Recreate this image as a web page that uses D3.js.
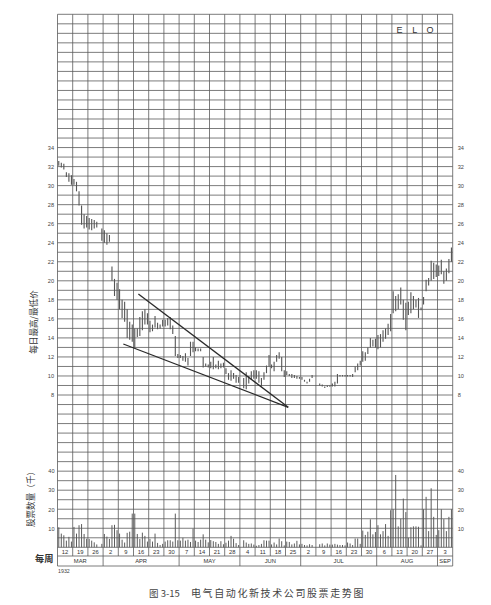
<!DOCTYPE html>
<html><head><meta charset="utf-8">
<script src="https://cdn.jsdelivr.net/npm/d3@7"></script>
<style>body{margin:0;background:#fff}svg{display:block}</style>
</head><body>
<svg id="c" width="491" height="605"></svg>
<script>
// ---- data ----
const weekLabels = ["12","19","26","2","9","16","23","30","7","14","21","28","4","11","18","25","2","9","16","23","30","6","13","20","27","3"];
const monthNames = ["MAR","APR","MAY","JUN","JUL","AUG","SEP"];
const monthWeeks = [3,5,4,4,5,4,1];
const priceTicks = [8,10,12,14,16,18,20,22,24,26,28,30,32,34];
const volumeTicks = [10,20,30,40];
const symbolLetters = ["E","L","O"];
// daily high / low (6 trading days per week, Mon-Sat), null = holiday
const dailyHigh = [
[32.6,32.4,32.3,31.4,31.3,31.1],
[30.7,30.4,29.4,27.9,27.0,26.8],
[26.6,26.5,26.4,26.2,null,25.5],
[25.3,25.0,24.8,21.5,20.2,19.8],
[19.1,18.0,17.8,17.0,15.7,15.4],
[15.0,15.0,16.2,16.8,17.0,16.6],
[15.8,15.4,16.3,15.6,15.4,15.9],
[15.9,16.1,16.2,15.3,14.2,12.3],
[12.2,12.1,12.4,11.9,13.6,13.6],
[13.0,12.9,12.9,12.0,11.3,11.2],
[11.5,12.0,11.2,11.6,11.3,11.4],
[10.8,10.3,10.6,10.3,10.1,9.9],
[null,9.8,10.4,10.0,10.5,10.6],
[10.6,10.5,9.8,10.4,11.1,12.2],
[11.2,11.5,12.2,12.5,12.0,10.6],
[10.5,10.2,10.2,10.1,10.0,9.9],
[9.9,9.6,9.4,9.7,10.1,null],
[null,9.2,9.1,8.9,9.0,9.0],
[9.2,9.4,10.2,10.1,10.1,10.1],
[10.1,10.1,10.2,11.0,11.3,11.6],
[12.6,12.5,13.0,14.0,13.8,13.9],
[14.3,14.4,14.8,15.0,15.5,16.5],
[18.9,18.4,18.6,19.3,18.0,17.7],
[17.8,18.8,18.4,18.0,18.2,17.2],
[18.3,20.1,20.3,22.1,21.9,21.7],
[21.6,22.2,21.0,21.3,22.3,23.5]
];
const dailyLow = [
[32.1,31.9,31.7,30.9,30.4,30.1],
[30.1,29.4,27.9,25.9,25.5,25.6],
[25.4,25.3,25.5,25.6,null,24.2],
[24.0,23.8,24.1,20.0,18.4,18.0],
[17.0,16.1,15.7,14.0,13.8,13.6],
[13.0,14.1,14.2,14.8,15.4,15.4],
[14.6,14.7,15.1,14.9,15.0,15.2],
[15.2,15.3,14.9,14.4,12.1,11.9],
[11.9,11.6,11.5,11.1,12.1,12.5],
[12.6,12.6,12.6,10.9,11.0,10.9],
[10.8,10.7,10.8,10.7,10.8,10.9],
[10.2,9.6,9.5,9.7,9.3,9.3],
[null,8.7,8.6,9.2,9.6,9.7],
[9.7,9.3,8.9,9.6,10.3,11.0],
[10.8,10.5,11.5,11.8,10.5,9.9],
[10.1,10.0,9.8,9.8,9.7,9.7],
[9.6,9.4,9.2,9.4,9.8,null],
[null,9.0,8.9,8.75,8.85,8.9],
[8.9,8.9,9.2,9.95,9.95,9.95],
[9.95,9.95,9.9,10.4,10.6,11.1],
[11.5,11.6,12.3,13.0,13.1,13.0],
[12.8,13.0,13.6,13.9,14.3,14.7],
[16.6,16.8,17.0,17.5,15.9,14.8],
[16.4,16.6,17.0,17.2,16.1,16.9],
[17.5,18.9,19.5,20.0,20.2,20.4],
[20.5,20.7,19.7,20.0,20.8,22.0]
];
// daily volume (thousands of shares)
const dailyVolume = [
[10.5,7.2,6.3,3.5,5.5,3.0],
[10.7,7.2,11.6,12.2,7.0,4.5],
[4.4,3.5,2.6,1.5,null,1.8],
[7.0,5.6,4.4,11.6,11.8,9.0],
[7.2,4.0,2.5,7.6,8.2,17.7],
[17.7,7.0,4.4,7.7,6.0,3.0],
[4.4,3.0,7.2,2.3,1.2,1.8],
[3.0,3.7,3.7,3.0,17.7,3.7],
[3.5,5.0,3.5,4.0,2.8,9.8],
[3.5,2.8,4.0,6.8,4.0,2.6],
[3.8,3.2,2.8,1.8,3.2,1.6],
[2.4,3.5,6.0,4.5,2.2,1.2],
[null,3.7,2.5,1.8,2.0,1.4],
[0.8,1.2,1.8,3.7,3.5,3.5],
[1.5,2.5,1.5,4.6,3.2,1.0],
[3.0,2.8,1.5,2.0,3.4,1.5],
[1.8,1.2,1.0,1.6,1.2,null],
[null,1.6,2.0,1.0,2.0,1.4],
[1.4,1.8,1.4,1.2,1.2,1.0],
[2.5,2.0,1.2,4.6,4.6,1.8],
[8.8,6.5,8.2,14.7,6.8,8.0],
[11.6,6.8,8.5,12.2,6.0,19.5],
[20.0,38.0,11.0,15.0,25.6,18.5],
[5.0,10.5,11.0,11.0,10.8,1.0],
[20.0,26.5,8.5,31.0,16.0,6.5],
[9.0,20.0,14.8,8.5,16.0,20.0]
];
// wedge trend lines: [week position, price]
const trendUpper = [[5.32,18.61],[15.18,6.71]];
const trendLower = [[4.33,13.36],[15.18,6.71]];

// ---- layout ----
const L = 57.5, R = 452.7, T = 14.3, B = 547.3;
const svg = d3.select("#c");
const nWeeks = weekLabels.length, dpw = 6;
const xw = d3.scaleLinear().domain([0, nWeeks]).range([L, R]);
const xd = d3.scaleLinear().domain([0, nWeeks*dpw]).range([L, R]);
const yP = d3.scaleLinear().domain([48, -8]).range([T, B]);
const yV = d3.scaleLinear().domain([0, 280]).range([B, T]);
const gridColor = "#5a5a5a";

// grid
const g = svg.append("g");
d3.range(-8, 49, 1).forEach(p => {
  g.append("line").attr("x1", L).attr("x2", R).attr("y1", yP(p)).attr("y2", yP(p))
   .attr("stroke", gridColor).attr("stroke-width", 0.8);
});
d3.range(0, nWeeks+1).forEach(w => {
  const edge = (w === 0 || w === nWeeks);
  g.append("line").attr("x1", xw(w)).attr("x2", xw(w)).attr("y1", T).attr("y2", edge ? 566 : 556)
   .attr("stroke", gridColor).attr("stroke-width", 0.8);
});
// date rows
[556, 566].forEach(yy => g.append("line").attr("x1", L).attr("x2", R).attr("y1", yy).attr("y2", yy)
   .attr("stroke", gridColor).attr("stroke-width", 0.8));
let cum = 0;
const monthStart = monthWeeks.map(n => { const s = cum; cum += n; return s; });
monthStart.forEach((s, i) => {
  if (s > 0) g.append("line").attr("x1", xw(s)).attr("x2", xw(s)).attr("y1", 556).attr("y2", 566)
    .attr("stroke", gridColor).attr("stroke-width", 0.8);
  svg.append("text").attr("x", xw(s + monthWeeks[i]/2)).attr("y", 563.3).attr("text-anchor", "middle")
    .attr("font-family", "Liberation Sans, Arial, sans-serif").attr("font-size", 5.8).attr("fill", "#333")
    .text(monthNames[i]);
});
weekLabels.forEach((t, w) => {
  svg.append("text").attr("x", xw(w + 0.5)).attr("y", 553.9).attr("text-anchor", "middle")
    .attr("font-family", "Liberation Sans, Arial, sans-serif").attr("font-size", 5.8).attr("fill", "#333").text(t);
});
svg.append("text").attr("x", 58).attr("y", 572.5).attr("font-family", "Liberation Sans, Arial, sans-serif")
  .attr("font-size", 5.3).attr("fill", "#444").text("1932");

// axes labels
function styleAxis(sel) {
  sel.select(".domain").remove();
  sel.selectAll("line").remove();
  sel.selectAll("text").attr("font-family", "Liberation Sans, Arial, sans-serif").attr("font-size", 5.6).attr("fill", "#444");
}
svg.append("g").attr("transform", `translate(${L},0)`)
  .call(d3.axisLeft(yP).tickValues(priceTicks).tickSize(0).tickPadding(3.5)).call(styleAxis);
svg.append("g").attr("transform", `translate(${R},0)`)
  .call(d3.axisRight(yP).tickValues(priceTicks).tickSize(0).tickPadding(5)).call(styleAxis);
svg.append("g").attr("transform", `translate(${L},0)`)
  .call(d3.axisLeft(yV).tickValues(volumeTicks).tickSize(0).tickPadding(3)).call(styleAxis);
svg.append("g").attr("transform", `translate(${R},0)`)
  .call(d3.axisRight(yV).tickValues(volumeTicks).tickSize(0).tickPadding(5)).call(styleAxis);

// price bars
const bars = [];
dailyHigh.forEach((wk, w) => wk.forEach((h, d) => {
  const lo = dailyLow[w][d];
  if (h != null && lo != null) bars.push({i: w*dpw + d, h, lo});
}));
svg.append("g").selectAll("line").data(bars).join("line")
  .attr("x1", b => xd(b.i + 0.5)).attr("x2", b => xd(b.i + 0.5))
  .attr("y1", b => yP(b.h)).attr("y2", b => Math.max(yP(b.lo), yP(b.h) + 1.2))
  .attr("stroke", "#555").attr("stroke-width", 1.1);

// volume bars
const vols = [];
dailyVolume.forEach((wk, w) => wk.forEach((v, d) => { if (v != null) vols.push({i: w*dpw + d, v}); }));
svg.append("g").selectAll("line").data(vols).join("line")
  .attr("x1", b => xd(b.i + 0.5)).attr("x2", b => xd(b.i + 0.5))
  .attr("y1", yV(0)).attr("y2", b => yV(b.v))
  .attr("stroke", "#5c5c5c").attr("stroke-width", 1);

// trend lines
const line = d3.line().x(p => xw(p[0])).y(p => yP(p[1]));
[trendUpper, trendLower].forEach(t => svg.append("path").attr("d", line(t))
  .attr("fill", "none").attr("stroke", "#2a2a2a").attr("stroke-width", 1.3));

// symbol letters
symbolLetters.forEach((c, k) => {
  svg.append("text").attr("x", xw(22.5 + k)).attr("y", 33).attr("text-anchor", "middle")
    .attr("font-family", "Liberation Sans, Arial, sans-serif").attr("font-size", 9).attr("fill", "#333").text(c);
});

// titles
const cjk = "'Noto Sans CJK SC', sans-serif";
svg.append("text").attr("transform", "translate(36.5,322) rotate(-90)").attr("text-anchor", "middle")
  .attr("font-family", cjk).attr("font-size", 8.6).attr("fill", "#333").text("每日最高/最低价");
svg.append("text").attr("transform", "translate(33.5,497) rotate(-90)").attr("text-anchor", "middle")
  .attr("font-family", cjk).attr("font-size", 8.6).attr("fill", "#333").text("股票数量（千）");
svg.append("text").attr("x", 35).attr("y", 561.5).attr("font-family", cjk).attr("font-size", 9.2)
  .attr("font-weight", 700).attr("fill", "#333").text("每周");
svg.append("text").attr("x", 149).attr("y", 597).attr("font-family", cjk).attr("font-size", 9.5)
  .attr("fill", "#444").text("图 3-15");
svg.append("text").attr("x", 191).attr("y", 597).attr("font-family", cjk).attr("font-size", 10)
  .attr("letter-spacing", 1.6).attr("fill", "#444").text("电气自动化新技术公司股票走势图");
</script>
</body></html>
